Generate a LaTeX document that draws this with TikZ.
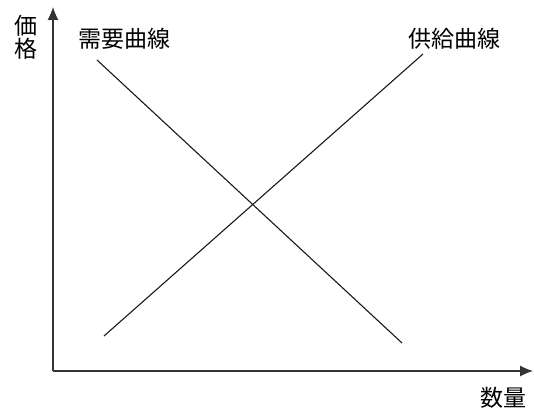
\documentclass[tikz,border=0pt]{standalone}
\usepackage{fontspec}
\newfontfamily\cjk{Noto Sans CJK JP}
\usetikzlibrary{arrows.meta}
\begin{document}
\begin{tikzpicture}[x=1pt,y=-1pt,
  axis/.style={line width=1.1pt,draw=black!80,-{Latex[length=13pt,width=11pt]}},
  curve/.style={line width=1.1pt,draw=black!90},
  lbl/.style={font=\cjk\fontsize{23}{25}\selectfont,inner sep=0pt}]
\useasboundingbox (0,0) rectangle (534,414);
\coordinate (O) at (53,371);
\coordinate (Ytip) at (53,7);
\coordinate (Xtip) at (533,371);
\draw[axis] (O) -- (Ytip);
\draw[axis] (O) -- (Xtip);
\coordinate (D1) at (97,60);
\coordinate (D2) at (402,343);
\coordinate (S1) at (104,336);
\coordinate (S2) at (423,54);
\draw[curve] (D1) -- (D2);
\draw[curve] (S1) -- (S2);
\node[lbl,align=center] (price) at (26,37) {価\\[-2pt]格};
\node[lbl] (demand) at (124,39) {需要曲線};
\node[lbl] (supply) at (454,39) {供給曲線};
\node[lbl] (qty) at (503,398) {数量};
\end{tikzpicture}
\end{document}
